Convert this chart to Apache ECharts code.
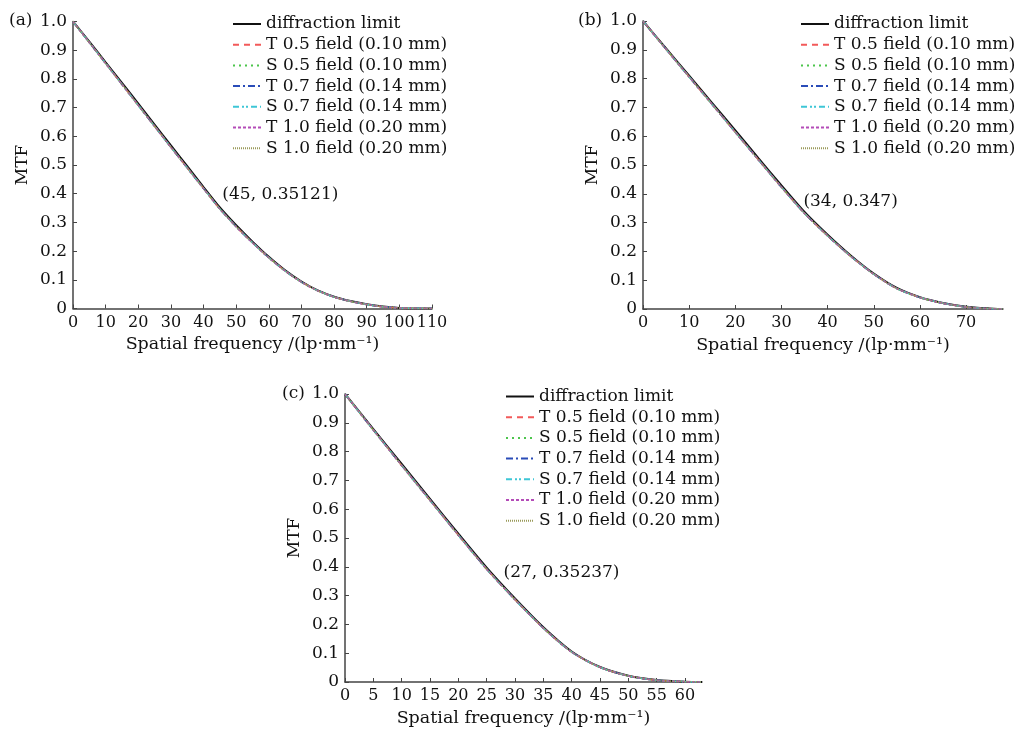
<!DOCTYPE html>
<html>
<head>
<meta charset="utf-8">
<script src="https://cdn.jsdelivr.net/npm/echarts@6/dist/echarts.min.js"></script>
<style>
  html, body { margin: 0; padding: 0; background: #fff; }
  #chart { width: 1019px; height: 730px; }
</style>
</head>
<body>
<div id="chart"></div>
<script>
// ---- data ----
var seriesNames = [
  "diffraction limit",
  "T 0.5 field (0.10 mm)",
  "S 0.5 field (0.10 mm)",
  "T 0.7 field (0.14 mm)",
  "S 0.7 field (0.14 mm)",
  "T 1.0 field (0.20 mm)",
  "S 1.0 field (0.20 mm)"
];

// (a)
var freqA = [0, 5, 10, 15, 20, 25, 30, 35, 40, 45, 50, 55, 60, 65, 70, 75, 80, 85, 90, 95, 100, 105, 110];
var diffA = [1.0, 0.930, 0.858, 0.786, 0.714, 0.641, 0.568, 0.496, 0.423, 0.352, 0.290, 0.233, 0.180, 0.133, 0.094, 0.063, 0.041, 0.026, 0.015, 0.007, 0.002, 0.000, 0.000];
var fieldA = [1.0, 0.927, 0.854, 0.781, 0.708, 0.635, 0.562, 0.490, 0.418, 0.347, 0.285, 0.229, 0.177, 0.131, 0.092, 0.062, 0.040, 0.025, 0.014, 0.006, 0.002, 0.000, 0.000];
var ticksA = [0, 10, 20, 30, 40, 50, 60, 70, 80, 90, 100, 110];
var annotA = [45, 0.35121];

// (b)
var freqB = [0, 5, 10, 15, 20, 25, 30, 35, 40, 45, 50, 55, 60, 65, 70, 75, 78];
var diffB = [1.0, 0.905, 0.810, 0.715, 0.620, 0.524, 0.429, 0.337, 0.258, 0.186, 0.123, 0.073, 0.041, 0.021, 0.008, 0.002, 0.000];
var fieldB = [1.0, 0.902, 0.806, 0.710, 0.614, 0.518, 0.423, 0.332, 0.254, 0.183, 0.121, 0.071, 0.040, 0.020, 0.007, 0.001, 0.000];
var ticksB = [0, 10, 20, 30, 40, 50, 60, 70];
var annotB = [34, 0.347];

// (c)
var freqC = [0, 5, 10, 15, 20, 25, 30, 35, 40, 45, 50, 55, 60, 63];
var diffC = [1.0, 0.878, 0.757, 0.636, 0.515, 0.397, 0.290, 0.190, 0.106, 0.052, 0.022, 0.007, 0.001, 0.000];
var fieldC = [1.0, 0.875, 0.752, 0.631, 0.510, 0.392, 0.286, 0.187, 0.104, 0.051, 0.021, 0.006, 0.001, 0.000];
var ticksC = [0, 5, 10, 15, 20, 25, 30, 35, 40, 45, 50, 55, 60];
var annotC = [27, 0.35237];

var yTicks = [0, 0.1, 0.2, 0.3, 0.4, 0.5, 0.6, 0.7, 0.8, 0.9, 1.0];

// ---- styles ----
var FONT = "DejaVu Serif";
var lineStyles = [
  { color: "#111111", width: 2, type: "solid" },
  { color: "#f25a5a", width: 1.6, type: [6, 5] },
  { color: "#4cc54c", width: 1.6, type: [2, 4] },
  { color: "#2a4cb8", width: 1.6, type: [7, 3, 2, 3] },
  { color: "#3ec6d6", width: 1.6, type: [6, 3, 2, 2, 2, 3] },
  { color: "#b44cb8", width: 1.6, type: [3, 2] },
  { color: "#9a9a5a", width: 1.6, type: [1, 1] }
];

function pairs(xs, ys) {
  return xs.map(function (x, i) { return [x, ys[i]]; });
}

function buildSeries(idx, freq, diff, field, annot, offset) {
  var list = [];
  seriesNames.forEach(function (name, k) {
    var s = {
      name: name,
      type: "line",
      xAxisIndex: idx,
      yAxisIndex: idx,
      data: pairs(freq, k === 0 ? diff : field),
      symbol: "none",
      smooth: 0.25,
      lineStyle: lineStyles[k],
      itemStyle: { color: lineStyles[k].color },
      z: k === 0 ? 2 : 3
    };
    if (k === 0) {
      s.markPoint = {
        symbol: "circle",
        symbolSize: 1,
        itemStyle: { color: "rgba(0,0,0,0)" },
        z: 10,
        data: [{ coord: annot }],
        label: {
          show: true,
          position: "right",
          distance: 0,
          offset: offset,
          formatter: "(" + annot[0] + ", " + annot[1] + ")",
          fontFamily: FONT,
          fontSize: 17,
          color: "#111"
        }
      };
    }
    list.push(s);
  });
  return list;
}

function xAxisCfg(idx, max, ticks) {
  return {
    type: "value",
    gridIndex: idx,
    min: 0,
    max: max,
    interval: ticks[1] - ticks[0],
    name: "Spatial frequency /(lp\u00b7mm\u207b\u00b9)",
    nameLocation: "middle",
    nameGap: 27,
    nameTextStyle: { fontFamily: FONT, fontSize: 17.5, color: "#111" },
    axisLine: { lineStyle: { color: "#444", width: 1.5 } },
    axisTick: { inside: true, length: 4, customValues: ticks, lineStyle: { color: "#444" } },
    axisLabel: { customValues: ticks, margin: 6, fontFamily: FONT, fontSize: 16, color: "#111" },
    splitLine: { show: false }
  };
}

function yAxisCfg(idx) {
  return {
    type: "value",
    gridIndex: idx,
    min: 0,
    max: 1,
    interval: 0.1,
    name: "MTF",
    nameLocation: "middle",
    nameGap: 42,
    nameTextStyle: { fontFamily: FONT, fontSize: 17, color: "#111" },
    axisLine: { lineStyle: { color: "#444", width: 1.5 } },
    axisTick: { inside: true, length: 4, customValues: yTicks, lineStyle: { color: "#444" } },
    axisLabel: {
      customValues: yTicks,
      margin: 6,
      fontFamily: FONT,
      fontSize: 17,
      color: "#111",
      formatter: function (v) { return v === 0 ? "0" : v.toFixed(1); }
    },
    splitLine: { show: false }
  };
}

function legendCfg(left, top) {
  return {
    data: seriesNames,
    orient: "vertical",
    left: left,
    top: top,
    padding: 0,
    itemWidth: 28,
    itemHeight: 14,
    itemGap: 3.7,
    selectedMode: false,
    itemStyle: { opacity: 0 },
    textStyle: { fontFamily: FONT, fontSize: 17, color: "#111", lineHeight: 17 }
  };
}

function panelTitle(text, left, top) {
  return {
    text: text,
    left: left,
    top: top,
    textStyle: { fontFamily: FONT, fontSize: 17, fontWeight: "normal", color: "#111" }
  };
}

var chart = echarts.init(document.getElementById("chart"));

var option = {
  animation: false,
  backgroundColor: "#fff",
  title: [
    panelTitle("(a)", 4, 7),
    panelTitle("(b)", 573, 7),
    panelTitle("(c)", 277, 380)
  ],
  legend: [
    legendCfg(232, 15.5),
    legendCfg(800, 15.5),
    legendCfg(505, 388)
  ],
  grid: [
    { left: 73, top: 21.5, width: 359, height: 287 },
    { left: 643, top: 21, width: 360, height: 288 },
    { left: 345, top: 394, width: 357, height: 288 }
  ],
  xAxis: [
    xAxisCfg(0, 110, ticksA),
    xAxisCfg(1, 78, ticksB),
    xAxisCfg(2, 63, ticksC)
  ],
  yAxis: [yAxisCfg(0), yAxisCfg(1), yAxisCfg(2)],
  series: []
    .concat(buildSeries(0, freqA, diffA, fieldA, annotA, [2, -13]))
    .concat(buildSeries(1, freqB, diffB, fieldB, annotB, [3, -7]))
    .concat(buildSeries(2, freqC, diffC, fieldC, annotC, [5, -8]))
};

chart.setOption(option);
</script>
</body>
</html>
